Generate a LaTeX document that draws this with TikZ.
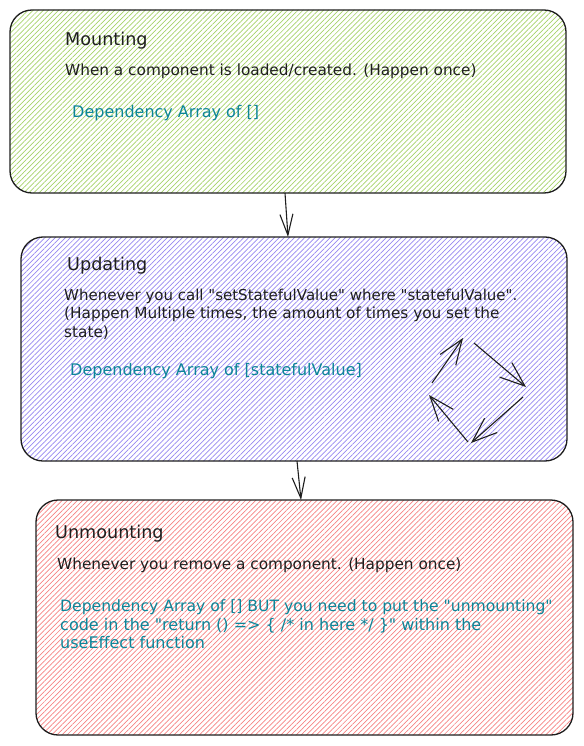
\documentclass[tikz,border=0pt]{standalone}
\usepackage{fontspec}
\setmainfont{DejaVu Sans}
\usetikzlibrary{arrows.meta,patterns.meta}
\makeatletter
\newcommand\dq{{\font\dqfnt="DejaVu Sans" at \f@size pt\dqfnt\symbol{34}}}
\makeatother
\definecolor{ink}{HTML}{1E1E1E}
\definecolor{tealtxt}{HTML}{0C8599}
\definecolor{hgreen}{RGB}{165,210,105}
\definecolor{hviolet}{RGB}{150,135,240}
\definecolor{hred}{RGB}{245,130,130}
\tikzset{
  phase/.style={draw=ink, line width=1.3pt, rounded corners=22pt, inner sep=0pt, outer sep=0pt},
  hatch/.style={pattern={Lines[angle=45,distance=3.6pt,line width=0.7pt]}, pattern color=#1},
  title/.style={anchor=base west, inner sep=0pt, font=\fontsize{17.6}{20}\selectfont, text=ink},
  body/.style={anchor=base west, inner sep=0pt, font=\fontsize{15.3}{18.8}\selectfont, text=ink},
  code/.style={body, font=\fontsize{16}{19}\selectfont, text=tealtxt},
  arr/.style={draw=ink, line width=1.1pt, -{Straight Barb[length=21pt,width=13pt,line width=1.1pt]}},
  cyc/.style={draw=ink, line width=1.1pt, -{Straight Barb[length=25pt,width=19pt,line width=1.1pt]}},
}
\begin{document}
\begin{tikzpicture}[x=1pt,y=-1pt]
\useasboundingbox (0,0) rectangle (583,746);
% boxes
\node[phase, hatch=hgreen, minimum width=556pt, minimum height=183pt, anchor=north west] (m) at (10,10) {};
\node[phase, hatch=hviolet, minimum width=546pt, minimum height=224pt, anchor=north west] (u) at (21,237) {};
\node[phase, hatch=hred, minimum width=537pt, minimum height=235pt, anchor=north west] (r) at (36,500) {};
% texts mounting
\node[title] (mt) at (65,46) {Mounting};
\node[body] (mb) at (65,76) {When a component is loaded/created. (Happen once)};
\node[code] (mc) at (72,118) {Dependency Array of []};
% updating
\node[title] (ut) at (67,270) {Updating};
\node[body, font=\fontsize{15}{18.8}\selectfont] (ub1) at (64,300) {Whenever you call \dq setStatefulValue\dq{} where \dq statefulValue\dq.};
\node[body] (ub2) at (64,318.5) {(Happen Multiple times, the amount of times you set the};
\node[body] (ub3) at (64,337) {state)};
\node[code] (uc) at (70,375) {Dependency Array of [statefulValue]};
% unmounting
\node[title] (rt) at (55,538) {Unmounting};
\node[body] (rb) at (57,569) {Whenever you remove a component. (Happen once)};
\node[code, font=\fontsize{15.6}{19}\selectfont] (rc1) at (60,611) {Dependency Array of [] BUT you need to put the \dq unmounting\dq};
\node[code] (rc2) at (60,630) {code in the \dq return () => \{ /* in here */ \}\dq{} within the};
\node[code] (rc3) at (60,648.5) {useEffect function};
% connectors
\draw[arr] ([xshift=-3pt]m.south) -- ([xshift=-6pt]u.north);
\draw[arr] ([xshift=3pt]u.south) -- ([xshift=-3.5pt]r.north);
% cycle arrows
\coordinate (c1) at (432,383); \coordinate (c2) at (463,338);
\coordinate (c3) at (474,343); \coordinate (c4) at (526,387);
\coordinate (c5) at (523,397); \coordinate (c6) at (471,443);
\coordinate (c7) at (468,442); \coordinate (c8) at (429,395);
\draw[cyc] (c1) -- (c2);
\draw[cyc] (c3) -- (c4);
\draw[cyc] (c5) -- (c6);
\draw[cyc] (c7) -- (c8);
\end{tikzpicture}
\end{document}
